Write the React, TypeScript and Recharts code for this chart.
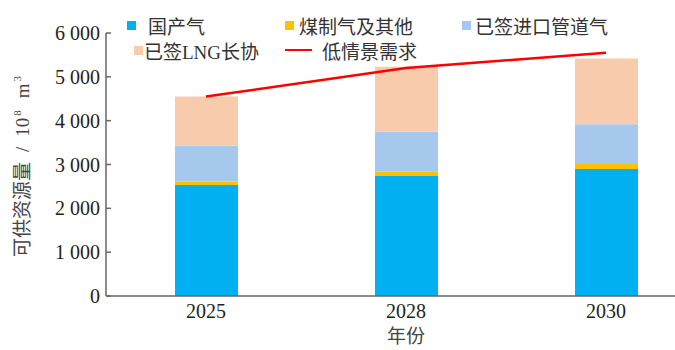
import React from "react";
import {
  ComposedChart,
  Bar,
  Line,
  XAxis,
  YAxis,
} from "recharts";

// values in 10^8 m^3
const years = ["2025", "2028", "2030"];
const domesticGas = [2530, 2740, 2900];
const coalGasOther = [80, 100, 110];
const pipelineImport = [820, 910, 910];
const lngContract = [1120, 1480, 1500];
const lowDemand = [4550, 5200, 5550];
const yTicks = [0, 1000, 2000, 3000, 4000, 5000, 6000];

const data = years.map((year, i) => ({
  year,
  domestic: domesticGas[i],
  coal: coalGasOther[i],
  pipeline: pipelineImport[i],
  lng: lngContract[i],
  demand: lowDemand[i],
}));

const FONT = "'Liberation Serif', 'Times New Roman', 'Noto Sans CJK SC', serif";
const TEXT_COLOR = "#231f20";
const AXIS_COLOR = "#666666";

const COLORS = {
  domestic: "#00b0f0",
  coal: "#ffc000",
  pipeline: "#a6c8ec",
  lng: "#f8cbad",
  demand: "#ff0000",
};

// legend layout: [label, color, kind, left, top, gap]
const legendItems: Array<[string, string, "square" | "line", number, number, number]> = [
  ["国产气", COLORS.domestic, "square", 127, 25, 12],
  ["煤制气及其他", COLORS.coal, "square", 285, 25, 5],
  ["已签进口管道气", COLORS.pipeline, "square", 462, 25, 4],
  ["已签LNG长协", COLORS.lng, "square", 134, 50, 1],
  ["低情景需求", COLORS.demand, "line", 285, 50, 10],
];

const formatTick = (n: number) =>
  String(n).replace(/\B(?=(\d{3})+(?!\d))/g, " ");

function CustomLegend() {
  return (
    <div style={{ position: "absolute", left: 0, top: 0, width: 675, height: 70, pointerEvents: "none" }}>
      {legendItems.map(([label, color, kind, left, top, gap]) => (
        <div
          key={label}
          style={{
            position: "absolute",
            left,
            top: top - 12,
            height: 24,
            display: "flex",
            alignItems: "center",
            fontSize: 19,
            color: "#333",
            whiteSpace: "nowrap",
          }}
        >
          {kind === "square" ? (
            <span style={{ width: 9, height: 9, background: color, display: "inline-block" }} />
          ) : (
            <span style={{ width: 27, height: 2.5, background: color, display: "inline-block" }} />
          )}
          <span style={{ marginLeft: gap }}>{label}</span>
        </div>
      ))}
    </div>
  );
}

function YTick({ x, y, payload }: any) {
  return (
    <g>
      <line x1={x + 6} x2={x + 11} y1={y} y2={y} stroke={AXIS_COLOR} strokeWidth={1.5} />
      <text
        x={x}
        y={y}
        dy="0.35em"
        textAnchor="end"
        fontSize={20}
        fill={TEXT_COLOR}
        fontFamily={FONT}
      >
        {formatTick(payload.value)}
      </text>
    </g>
  );
}

function YLabel({ viewBox }: any) {
  const cx = viewBox.x + 22;
  const cy = viewBox.y + viewBox.height / 2 + 2;
  return (
    <text
      x={cx}
      y={cy}
      transform={`rotate(-90, ${cx}, ${cy})`}
      textAnchor="middle"
      dy="0.35em"
      fontSize={19}
      fill="#444"
      fontFamily={FONT}
    >
      可供资源量
      <tspan dx={10}>/</tspan>
      <tspan dx={10}>10</tspan>
      <tspan fontSize={11} dx={2} dy={-8}>8</tspan>
      <tspan dx={12} dy={8}>m</tspan>
      <tspan fontSize={11} dx={2} dy={-8}>3</tspan>
    </text>
  );
}

export default function App() {
  return (
    <div
      style={{
        position: "absolute",
        left: 0,
        top: 0,
        width: 675,
        height: 350,
        overflow: "hidden",
        background: "#fff",
        fontFamily: FONT,
      }}
    >
      <ComposedChart
        width={720}
        height={350}
        data={data}
        margin={{ top: 33, right: 14, bottom: 0, left: 0 }}
        barCategoryGap={0}
      >
        <XAxis
          dataKey="year"
          height={54}
          tickLine={false}
          axisLine={{ stroke: AXIS_COLOR, strokeWidth: 1.5 }}
          tick={{ fontSize: 20, fill: TEXT_COLOR, fontFamily: FONT }}
          label={{
            value: "年份",
            position: "insideBottom",
            offset: 7,
            fontSize: 19,
            fill: "#444",
            fontFamily: FONT,
          }}
        />
        <YAxis
          width={106}
          domain={[0, 6000]}
          ticks={yTicks}
          interval={0}
          tickSize={0}
          tickMargin={6}
          tickLine={false}
          axisLine={{ stroke: AXIS_COLOR, strokeWidth: 1.5 }}
          tick={<YTick />}
          label={<YLabel />}
        />
        <Bar dataKey="domestic" name="国产气" stackId="a" fill={COLORS.domestic} barSize={63} isAnimationActive={false} />
        <Bar dataKey="coal" name="煤制气及其他" stackId="a" fill={COLORS.coal} barSize={63} isAnimationActive={false} />
        <Bar dataKey="pipeline" name="已签进口管道气" stackId="a" fill={COLORS.pipeline} barSize={63} isAnimationActive={false} />
        <Bar dataKey="lng" name="已签LNG长协" stackId="a" fill={COLORS.lng} barSize={63} isAnimationActive={false} />
        <Line
          dataKey="demand"
          name="低情景需求"
          type="linear"
          stroke={COLORS.demand}
          strokeWidth={2.5}
          dot={false}
          isAnimationActive={false}
        />
      </ComposedChart>
      <CustomLegend />
    </div>
  );
}
